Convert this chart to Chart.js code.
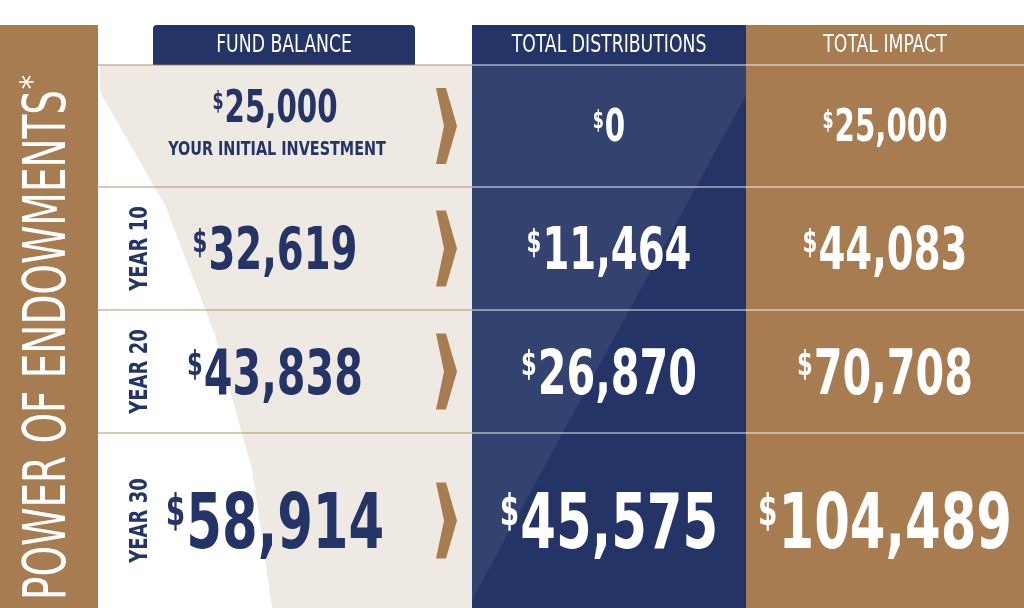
<!DOCTYPE html>
<html>
<head>
<meta charset="utf-8">
<script src="https://cdn.jsdelivr.net/npm/chart.js@4"></script>
<style>
  html, body { margin: 0; padding: 0; background: #fff; }
  #wrap { width: 1024px; height: 608px; }
</style>
</head>
<body>
<div id="wrap"><canvas id="myChart"></canvas></div>
<script>
// data
var columns = ['FUND BALANCE', 'TOTAL DISTRIBUTIONS', 'TOTAL IMPACT'];
var rowLabels = ['', 'YEAR 10', 'YEAR 20', 'YEAR 30'];
var fundBalance = [25000, 32619, 43838, 58914];
var distributions = [0, 11464, 26870, 45575];
var totalImpact = [25000, 44083, 70708, 104489];
var sideTitle = 'POWER OF ENDOWMENTS';
var firstRowNote = 'YOUR INITIAL INVESTMENT';

// layout (pixel units of the hidden scales)
var NAVY = '#253466', BROWN = '#a77c50', BEIGE = '#efe9e3';
var FONT = '"DejaVu Sans Condensed", "Liberation Sans Narrow", sans-serif';
var SQ = 0.74; // horizontal squeeze to get a narrow face
var rowEdges = [65, 187, 310, 433, 608];
var valueSizes = [44, 58, 62, 77];
var colCenters = [275, 609, 885];

function money(v) { return v.toLocaleString('en-US'); }

function squeezed(c, text, x, y, font, color, align, sq) {
  c.save();
  c.font = font; c.fillStyle = color;
  c.textAlign = align || 'center';
  c.translate(x, y);
  c.scale(sq || SQ, 1);
  c.fillText(text, 0, 0);
  c.restore();
}

function drawMoney(c, v, x, y, size, color) {
  var num = money(v);
  c.font = 'bold ' + size + 'px ' + FONT;
  var w = c.measureText(num).width * SQ;
  var dsz = Math.round(size * 0.55);
  c.font = 'bold ' + dsz + 'px ' + FONT;
  var dw = c.measureText('$').width * SQ + 1;
  var left = x - (w + dw) / 2;
  c.textBaseline = 'alphabetic';
  squeezed(c, '$', left, y - size * 0.3, 'bold ' + dsz + 'px ' + FONT, color, 'left');
  squeezed(c, num, left + dw, y, 'bold ' + size + 'px ' + FONT, color, 'left');
}

var infographic = {
  id: 'infographic',
  beforeDraw: function(chart) {
    var c = chart.ctx, sx = chart.scales.x, sy = chart.scales.y;
    var X = function(v) { return sx.getPixelForValue(v); };
    var Y = function(v) { return sy.getPixelForValue(v); };
    function poly(pts, fill) {
      c.beginPath();
      pts.forEach(function(p, i) { if (i) c.lineTo(X(p[0]), Y(p[1])); else c.moveTo(X(p[0]), Y(p[1])); });
      c.closePath(); c.fillStyle = fill; c.fill();
    }
    c.save();
    // beige fund area
    poly([[100,65],[472,65],[472,608],[272,608],[252,470],[215,335],[165,205],[100,92]], BEIGE);
    // side bar
    poly([[0,25],[98,25],[98,608],[0,608]], BROWN);
    // distributions column
    poly([[472,25],[746,25],[746,608],[472,608]], NAVY);
    poly([[472,65],[746,65],[746,95],[472,600]], 'rgba(255,255,255,0.07)');
    // impact column
    poly([[746,25],[1024,25],[1024,608],[746,608]], BROWN);
    // fund header tab
    c.beginPath();
    c.roundRect(X(153), Y(25), X(415) - X(153), Y(65) - Y(25), [4, 4, 0, 0]);
    c.fillStyle = NAVY; c.fill();

    // row lines
    c.lineWidth = 1.5;
    rowEdges.slice(0, 4).forEach(function(r) {
      c.strokeStyle = 'rgba(167,124,80,0.55)';
      c.beginPath(); c.moveTo(X(98), Y(r)); c.lineTo(X(472), Y(r)); c.stroke();
      c.strokeStyle = 'rgba(255,255,255,0.6)';
      c.beginPath(); c.moveTo(X(472), Y(r)); c.lineTo(X(1024), Y(r)); c.stroke();
    });

    // headers
    c.textBaseline = 'middle';
    squeezed(c, columns[0], X(284), Y(46), '24px ' + FONT, '#fff', 'center', 0.8);
    squeezed(c, columns[1], X(609), Y(46), '24px ' + FONT, '#fff', 'center', 0.8);
    squeezed(c, columns[2], X(885), Y(46), '24px ' + FONT, '#fff', 'center', 0.8);

    // side title rotated
    var titleLen = 510;
    c.save();
    c.translate(X(50), Y(345));
    c.rotate(-Math.PI / 2);
    c.font = '58px ' + FONT;
    var tw = c.measureText(sideTitle).width;
    c.textBaseline = 'middle';
    squeezed(c, sideTitle, 0, 0, '58px ' + FONT, '#fff', 'center', titleLen / tw);
    squeezed(c, '*', titleLen / 2 + 8, -16, '32px ' + FONT, '#fff', 'center', 1);
    c.restore();

    for (var i = 0; i < 4; i++) {
      var top = rowEdges[i], bot = rowEdges[i + 1], mid = (top + bot) / 2;
      var s = valueSizes[i];
      // chevron arrow
      poly([[436, mid - 38], [446, mid - 38], [457, mid], [446, mid + 38], [436, mid + 38], [444, mid]], BROWN);
      // year label
      if (rowLabels[i]) {
        c.save();
        c.translate(X(140), Y(mid));
        c.rotate(-Math.PI / 2);
        c.textBaseline = 'middle';
        squeezed(c, rowLabels[i], 0, 0, 'bold 25px ' + FONT, NAVY, 'center', 0.8);
        c.restore();
      }
      var base = i === 0 ? mid - 4 : mid + s * 0.36;
      drawMoney(c, fundBalance[i], X(colCenters[0]), Y(base), s, NAVY);
      if (i === 0) {
        c.textBaseline = 'middle';
        squeezed(c, firstRowNote, X(277), Y(mid + 24), 'bold 20px ' + FONT, NAVY, 'center', 0.8);
      }
      var b2 = i === 0 ? mid + 15 : base;
      drawMoney(c, distributions[i], X(colCenters[1]), Y(b2), s, '#fff');
      drawMoney(c, totalImpact[i], X(colCenters[2]), Y(b2), s, '#fff');
    }
    c.restore();
  }
};

var graphData = {
  type: 'scatter',
  data: { datasets: [{ data: [], pointRadius: 0 }] },
  options: {
    animation: false,
    responsive: true,
    maintainAspectRatio: false,
    layout: { padding: 0 },
    plugins: { legend: { display: false }, tooltip: { enabled: false } },
    scales: {
      x: { type: 'linear', min: 0, max: 1024, display: false },
      y: { type: 'linear', min: 0, max: 608, reverse: true, display: false }
    }
  },
  plugins: [infographic]
};

var myChart = new Chart(document.getElementById('myChart'), graphData);
</script>
</body>
</html>
